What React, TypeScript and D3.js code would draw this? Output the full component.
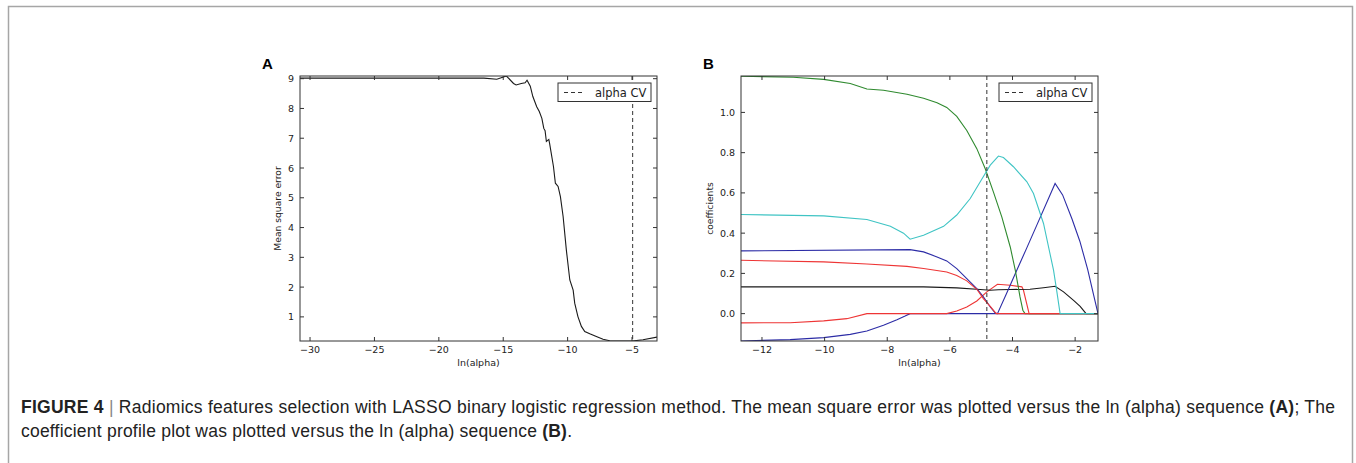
import React from 'react';
import * as d3 from 'd3';

// Panel A: mean square error vs ln(alpha)
const mseLnAlpha = [-30.78, -16.5, -15.5, -14.75, -14.2, -14.0, -13.6, -13.3, -13.15, -12.9, -12.7, -12.4, -12.2, -12.0, -11.85, -11.75, -11.65, -11.46, -11.4, -11.1, -10.95, -10.74, -10.56, -10.35, -10.1, -9.83, -9.57, -9.45, -9.2, -8.93, -8.67, -8.28, -7.77, -7.25, -6.73, -6.2, -5.0, -4.15, -3.06];
const mseValues = [9.02, 9.02, 8.98, 9.09, 8.84, 8.79, 8.84, 8.86, 8.95, 8.75, 8.4, 8.06, 7.9, 7.67, 7.33, 7.25, 6.89, 6.96, 6.83, 6.05, 5.49, 5.38, 5.04, 4.37, 3.25, 2.24, 1.9, 1.46, 1.01, 0.68, 0.51, 0.43, 0.34, 0.25, 0.2, 0.19, 0.19, 0.23, 0.32];
const cvLnAlphaA = -4.95;

// Panel B: coefficient profiles vs ln(alpha)
const greenX = [-12.67, -11, -10.03, -9.18, -8.65, -8.12, -7.37, -6.84, -6.41, -6.1, -5.78, -5.46, -5.14, -4.87, -4.6, -4.34, -4.07, -3.91, -3.76, -3.67, -3.6, -1.27];
const greenY = [1.18, 1.175, 1.164, 1.144, 1.116, 1.11, 1.09, 1.07, 1.048, 1.025, 0.98, 0.91, 0.82, 0.72, 0.6, 0.48, 0.33, 0.215, 0.083, 0.017, 0, 0];
const cyanX = [-12.67, -10.03, -8.65, -7.9, -7.48, -7.27, -6.84, -6.2, -5.78, -5.35, -5.03, -4.71, -4.45, -4.29, -3.97, -3.54, -3.33, -3.01, -2.69, -2.59, -2.48, -1.27];
const cyanY = [0.4925, 0.486, 0.468, 0.434, 0.4, 0.37, 0.39, 0.434, 0.49, 0.572, 0.655, 0.738, 0.783, 0.776, 0.73, 0.655, 0.597, 0.448, 0.216, 0.116, 0, 0];
const blueX = [-12.67, -7.27, -6.84, -6.41, -6.1, -5.78, -5.46, -5.14, -4.93, -4.71, -4.55, -4.48, -4.18, -3.86, -3.54, -3.22, -2.64, -2.4, -2.1, -1.85, -1.6, -1.42, -1.27];
const blueY = [0.312, 0.318, 0.307, 0.282, 0.262, 0.224, 0.174, 0.124, 0.083, 0.033, 0.003, 0, 0.104, 0.217, 0.328, 0.441, 0.647, 0.59, 0.47, 0.36, 0.22, 0.1, 0];
const blue2X = [-12.67, -11.1, -10.03, -9.18, -8.65, -8.12, -7.69, -7.43, -7.27, -1.27];
const blue2Y = [-0.136, -0.129, -0.119, -0.103, -0.086, -0.058, -0.03, -0.012, 0, 0];
const redX = [-12.67, -10.03, -8.65, -7.37, -6.84, -6.1, -5.78, -5.46, -5.14, -4.93, -4.71, -4.52, -1.27];
const redY = [0.265, 0.257, 0.247, 0.235, 0.224, 0.207, 0.19, 0.163, 0.121, 0.075, 0.036, 0, 0];
const red2X = [-12.67, -11.1, -10.03, -9.29, -8.65, -6.1, -5.78, -5.46, -5.14, -4.82, -4.48, -4.07, -3.7, -3.65, -3.47, -1.27];
const red2Y = [-0.046, -0.045, -0.036, -0.025, 0, 0, 0.013, 0.033, 0.063, 0.108, 0.146, 0.141, 0.133, 0.116, 0, 0];
const blackX = [-12.67, -6.84, -5.78, -5.14, -4.71, -4.45, -4.07, -3.44, -3.01, -2.64, -2.37, -2.05, -1.84, -1.65, -1.27];
const blackY = [0.133, 0.133, 0.128, 0.121, 0.116, 0.119, 0.12, 0.121, 0.129, 0.136, 0.108, 0.066, 0.036, 0, 0];
const cvLnAlphaB = -4.82;

const ticksAx = [-30, -25, -20, -15, -10, -5];
const ticksAy = [1, 2, 3, 4, 5, 6, 7, 8, 9];
const ticksBx = [-12, -10, -8, -6, -4, -2];
const ticksBy = [0, 0.2, 0.4, 0.6, 0.8, 1.0];

const captionLine1 = 'Radiomics features selection with LASSO binary logistic regression method. The mean square error was plotted versus the ln (alpha) sequence ';
const captionLine2 = 'coefficient profile plot was plotted versus the ln (alpha) sequence ';

const tickFont = '"DejaVu Sans", sans-serif';

const seriesB = [
	{ xs: blue2X, ys: blue2Y, color: '#2c2ca6' },
	{ xs: red2X, ys: red2Y, color: '#ee3535' },
	{ xs: blackX, ys: blackY, color: '#1a1a1a' },
	{ xs: blueX, ys: blueY, color: '#2c2ca6' },
	{ xs: greenX, ys: greenY, color: '#2f8a2f' },
	{ xs: redX, ys: redY, color: '#ee3535' },
	{ xs: cyanX, ys: cyanY, color: '#3fc4c4' },
];

const Panel = ({ x, y, xticks, yticks, fmtX, fmtY, ylabel, letter, cv, legendX, children }) => {
	const [x0, x1] = x.range();
	const [y0, y1] = y.range();
	const tl = 4;
	return (
		<g>
			<text x={x0 - 38} y={69} fontFamily="Arial, 'Liberation Sans', sans-serif" fontWeight="bold" fontSize={15}>
				{letter}
			</text>
			<defs>
				<clipPath id={'clip' + letter}>
					<rect x={x0} y={y1} width={x1 - x0} height={y0 - y1} />
				</clipPath>
			</defs>
			<g clipPath={'url(#clip' + letter + ')'}>
				{children}
				<line x1={x(cv)} x2={x(cv)} y1={y1} y2={y0} stroke="#333" strokeWidth={1} strokeDasharray="4,3" />
			</g>
			{xticks.map((t) => (
				<g key={'x' + t}>
					<line x1={x(t)} x2={x(t)} y1={y0} y2={y0 - tl} stroke="#333" />
					<line x1={x(t)} x2={x(t)} y1={y1} y2={y1 + tl} stroke="#333" />
					<text x={x(t)} y={y0 + 12} textAnchor="middle" fontFamily={tickFont} fontSize={9.5} fill="#222">
						{fmtX(t)}
					</text>
				</g>
			))}
			{yticks.map((t) => (
				<g key={'y' + t}>
					<line x1={x0} x2={x0 + tl} y1={y(t)} y2={y(t)} stroke="#333" />
					<line x1={x1} x2={x1 - tl} y1={y(t)} y2={y(t)} stroke="#333" />
					<text x={x0 - 6} y={y(t) + 3.5} textAnchor="end" fontFamily={tickFont} fontSize={9.5} fill="#222">
						{fmtY(t)}
					</text>
				</g>
			))}
			<rect x={x0} y={y1} width={x1 - x0} height={y0 - y1} fill="none" stroke="#333" strokeWidth={1} />
			<text x={(x0 + x1) / 2} y={y0 + 25} textAnchor="middle" fontFamily={tickFont} fontSize={9.5} fill="#222">
				ln(alpha)
			</text>
			<text
				transform={'translate(' + (x0 - (letter === 'A' ? 19 : 28)) + ',' + (y0 + y1) / 2 + ') rotate(-90)'}
				textAnchor="middle"
				fontFamily={tickFont}
				fontSize={9.2}
				fill="#222"
			>
				{ylabel}
			</text>
			<g transform={'translate(' + legendX + ',' + (y1 + 7) + ')'}>
				<rect x={0} y={0} width={93} height={18.5} fill="#fff" stroke="#333" strokeWidth={1} />
				<line x1={6} x2={26} y1={9.5} y2={9.5} stroke="#333" strokeDasharray="4,3" />
				<text x={37} y={13.5} fontFamily={tickFont} fontSize={11.5} fill="#222">
					alpha CV
				</text>
			</g>
		</g>
	);
};

const App = () => {
	const xA = d3.scaleLinear().domain([-30.78, -3.06]).range([300, 657]);
	const yA = d3.scaleLinear().domain([0.19, 9.09]).range([341, 76]);
	const xB = d3.scaleLinear().domain([-12.67, -1.27]).range([741, 1098]);
	const yB = d3.scaleLinear().domain([-0.136, 1.181]).range([341, 76]);

	const lineA = d3
		.line<number>()
		.x((d) => xA(d))
		.y((d, i) => yA(mseValues[i]));

	const lineB = (xs, ys) =>
		d3
			.line<number>()
			.x((d) => xB(d))
			.y((d, i) => yB(ys[i]))(xs);

	const fmtInt = d3.format('d');
	const fmtDec = d3.format('.1f');

	return (
		<div style={{ position: 'absolute', left: 0, top: 0 }}>
			<svg width={1356} height={463} style={{ display: 'block', background: '#fff' }}>
				<rect x={8.5} y={6.5} width={1344} height={520} fill="none" stroke="#a6a6a6" strokeWidth={1.5} />
				<Panel x={xA} y={yA} xticks={ticksAx} yticks={ticksAy} fmtX={fmtInt} fmtY={fmtInt} ylabel="Mean square error" letter="A" cv={cvLnAlphaA} legendX={558}>
					<path d={lineA(mseLnAlpha)} fill="none" stroke="#1a1a1a" strokeWidth={1.1} />
				</Panel>
				<Panel x={xB} y={yB} xticks={ticksBx} yticks={ticksBy} fmtX={fmtInt} fmtY={fmtDec} ylabel="coefficients" letter="B" cv={cvLnAlphaB} legendX={999}>
					{seriesB.map((s, i) => (
						<path key={i} d={lineB(s.xs, s.ys)} fill="none" stroke={s.color} strokeWidth={1.1} />
					))}
				</Panel>
				<g fontFamily="Arial, 'Liberation Sans', Helvetica, sans-serif" fontSize={17.5} fill="#222">
					<text x={21} y={413} textLength={1314} lengthAdjust="spacing">
						<tspan fontWeight="bold">FIGURE 4</tspan>
						<tspan fill="#888"> | </tspan>
						<tspan>{captionLine1}</tspan>
						<tspan fontWeight="bold">(A)</tspan>
						<tspan>; The</tspan>
					</text>
					<text x={21} y={437} textLength={551} lengthAdjust="spacing">
						<tspan>{captionLine2}</tspan>
						<tspan fontWeight="bold">(B)</tspan>
						<tspan>.</tspan>
					</text>
				</g>
			</svg>
		</div>
	);
};

export default App;
